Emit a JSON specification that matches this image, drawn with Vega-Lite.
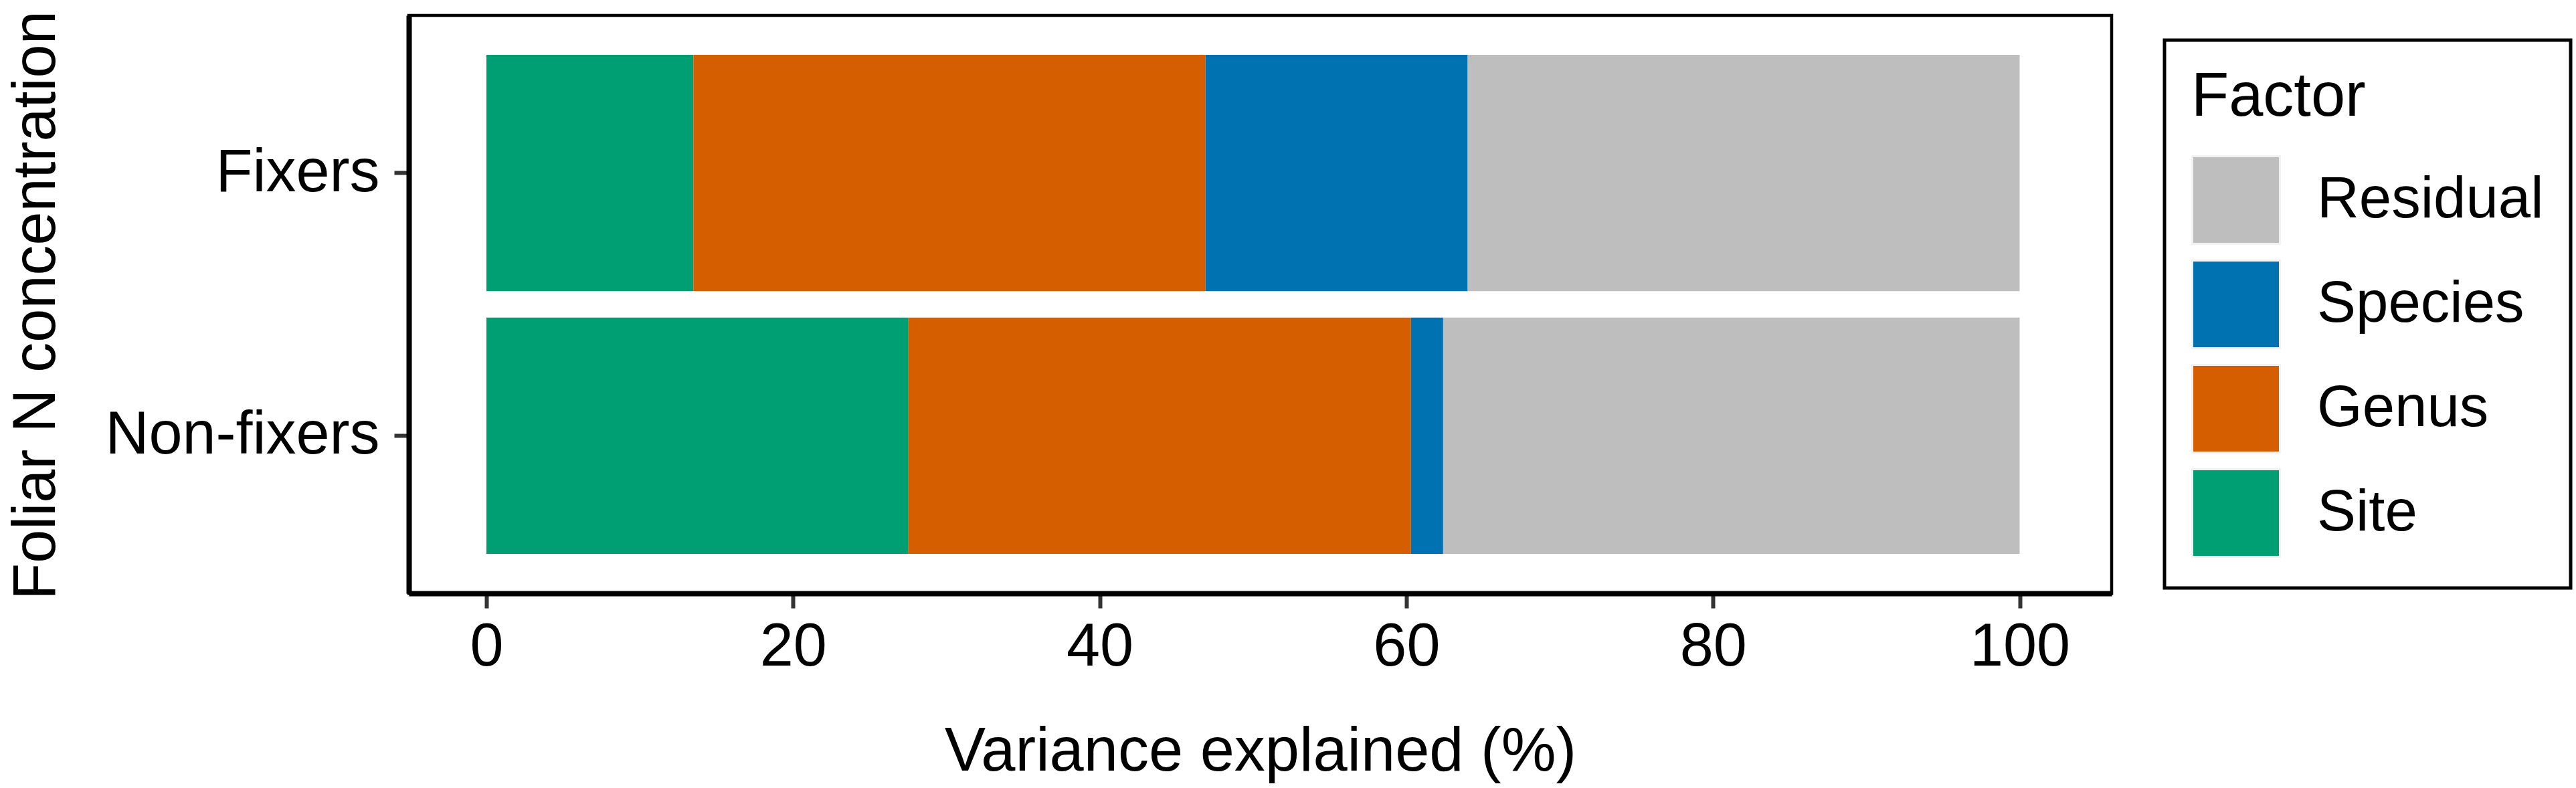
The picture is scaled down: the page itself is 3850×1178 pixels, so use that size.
{
  "$schema": "https://vega.github.io/schema/vega-lite/v6.json",
  "description": "Variance in foliar N concentration explained by site, genus and species, for N fixers and non-fixers.",
  "autosize": "none",
  "width": 2545,
  "height": 864,
  "padding": {"left": 611, "top": 23, "right": 694, "bottom": 291},
  "background": "white",
  "data": {
    "values": [
      {"Group": "Fixers", "Factor": "Site", "Rank": 1, "Variance": 13.5},
      {"Group": "Fixers", "Factor": "Genus", "Rank": 2, "Variance": 33.4},
      {"Group": "Fixers", "Factor": "Species", "Rank": 3, "Variance": 17.1},
      {"Group": "Fixers", "Factor": "Residual", "Rank": 4, "Variance": 36.0},
      {"Group": "Non-fixers", "Factor": "Site", "Rank": 1, "Variance": 27.5},
      {"Group": "Non-fixers", "Factor": "Genus", "Rank": 2, "Variance": 32.8},
      {"Group": "Non-fixers", "Factor": "Species", "Rank": 3, "Variance": 2.1},
      {"Group": "Non-fixers", "Factor": "Residual", "Rank": 4, "Variance": 37.6}
    ]
  },
  "config": {
    "font": "Liberation Sans",
    "view": {"stroke": "black", "strokeWidth": 4.5},
    "axis": {
      "grid": false,
      "domainColor": "black",
      "domainWidth": 8,
      "tickColor": "#333333",
      "tickWidth": 6,
      "tickSize": 22,
      "labelColor": "black",
      "labelFont": "Liberation Sans",
      "labelFontSize": 90,
      "labelLimit": 0,
      "titleFont": "Liberation Sans",
      "titleFontSize": 92,
      "titleFontWeight": "normal",
      "titleColor": "black",
      "titleLimit": 0
    },
    "legend": {
      "strokeColor": "black",
      "strokeWidth": 5,
      "labelLimit": 0,
      "titleLimit": 0
    }
  },
  "mark": {"type": "bar"},
  "encoding": {
    "y": {
      "field": "Group",
      "type": "nominal",
      "sort": ["Fixers", "Non-fixers"],
      "scale": {"paddingInner": 0.1, "paddingOuter": 0.15},
      "axis": {
        "title": "Foliar N concentration",
        "labelPadding": 22,
        "titleFontSize": 90,
        "titleX": -530,
        "titleY": 433,
        "titleBaseline": "alphabetic",
        "titleAlign": "center",
        "titleAngle": 270
      }
    },
    "x": {
      "field": "Variance",
      "type": "quantitative",
      "stack": "zero",
      "scale": {"domain": [-5.06, 106], "nice": false, "zero": false},
      "axis": {
        "title": "Variance explained (%)",
        "values": [0, 20, 40, 60, 80, 100],
        "labelPadding": 14,
        "titlePadding": 66,
        "labelFlush": false
      }
    },
    "order": {"field": "Rank", "type": "quantitative", "sort": "ascending"},
    "color": {
      "field": "Factor",
      "type": "nominal",
      "scale": {
        "domain": ["Residual", "Species", "Genus", "Site"],
        "range": ["#BEBEBE", "#0072B2", "#D55E00", "#009E73"]
      },
      "legend": {
        "title": "Factor",
        "orient": "none",
        "legendX": 2624,
        "legendY": 37,
        "padding": 40,
        "titleFontSize": 92,
        "titleFontWeight": "normal",
        "titleColor": "black",
        "titlePadding": 40,
        "labelFontSize": 87,
        "labelColor": "black",
        "labelOffset": 54,
        "symbolType": "square",
        "symbolSize": 17161,
        "symbolStrokeColor": "#F2F2F2",
        "symbolStrokeWidth": 3,
        "symbolOpacity": 1,
        "rowPadding": 12
      }
    }
  }
}
